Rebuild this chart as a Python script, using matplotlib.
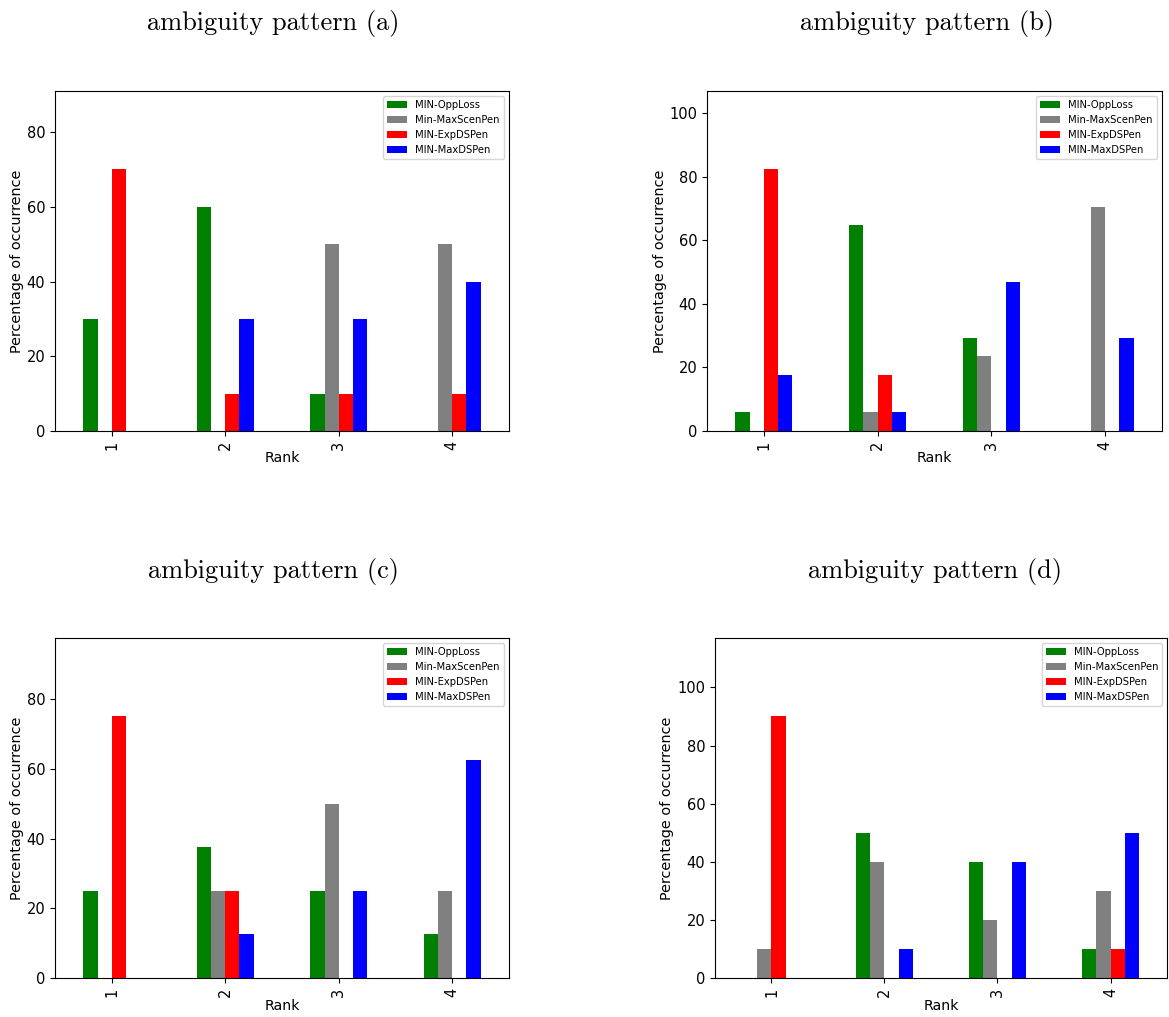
import numpy as np
import matplotlib
matplotlib.use('Agg')
from matplotlib import pyplot as plt

# data
ranks = ['1', '2', '3', '4']
methods = ['MIN-OppLoss', 'Min-MaxScenPen', 'MIN-ExpDSPen', 'MIN-MaxDSPen']
colors = ['green', 'gray', 'red', 'blue']

pattern_a = [[30, 60, 10, 0],
             [0, 0, 50, 50],
             [70, 10, 10, 10],
             [0, 30, 30, 40]]
pattern_b = [[5.88, 64.71, 29.41, 0],
             [0, 5.88, 23.53, 70.59],
             [82.35, 17.65, 0, 0],
             [17.65, 5.88, 47.06, 29.41]]
pattern_c = [[25, 37.5, 25, 12.5],
             [0, 25, 50, 25],
             [75, 25, 0, 0],
             [0, 12.5, 25, 62.5]]
pattern_d = [[0, 50, 40, 10],
             [10, 40, 20, 30],
             [90, 0, 0, 10],
             [0, 10, 40, 50]]

titles = ['ambiguity pattern (a)', 'ambiguity pattern (b)',
          'ambiguity pattern (c)', 'ambiguity pattern (d)']
patterns = [pattern_a, pattern_b, pattern_c, pattern_d]

# axes boxes [left, bottom, width, height] and title anchors (figure fractions)
boxes = [[0.047, 0.5762, 0.3884, 0.3343],
         [0.6048, 0.5762, 0.3892, 0.3343],
         [0.047, 0.0383, 0.3884, 0.3344],
         [0.6116, 0.0383, 0.3867, 0.3344]]
title_pos = [(0.234, 0.977), (0.793, 0.977), (0.234, 0.4385), (0.80, 0.4385)]

fig = plt.figure(figsize=(11.69, 10.17), dpi=100)

x = np.arange(len(ranks))
w = 0.5 / len(methods)

for box, data, title, tp in zip(boxes, patterns, titles, title_pos):
    ax = fig.add_axes(box)
    for i, (name, col) in enumerate(zip(methods, colors)):
        off = (i - (len(methods) - 1) / 2.0) * w
        ax.bar(x + off, data[i], width=w, color=col, label=name)
    ax.set_xticks(x)
    ax.set_xticklabels(ranks, rotation=90)
    ax.tick_params(labelsize=10.5)
    ax.set_xlim(-0.5, len(ranks) - 0.5)
    ax.set_ylim(0, 1.3 * np.max(data))
    ax.set_xlabel('Rank', fontsize=10.2, labelpad=1)
    ax.set_ylabel('Percentage of occurrence', fontsize=10.4, labelpad=2)
    ax.legend(loc='upper right', fontsize=7.2)
    fig.text(tp[0], tp[1], title, ha='center', va='center',
             fontsize=19, family='cmr10')

fig.savefig('out.png', dpi=100)
